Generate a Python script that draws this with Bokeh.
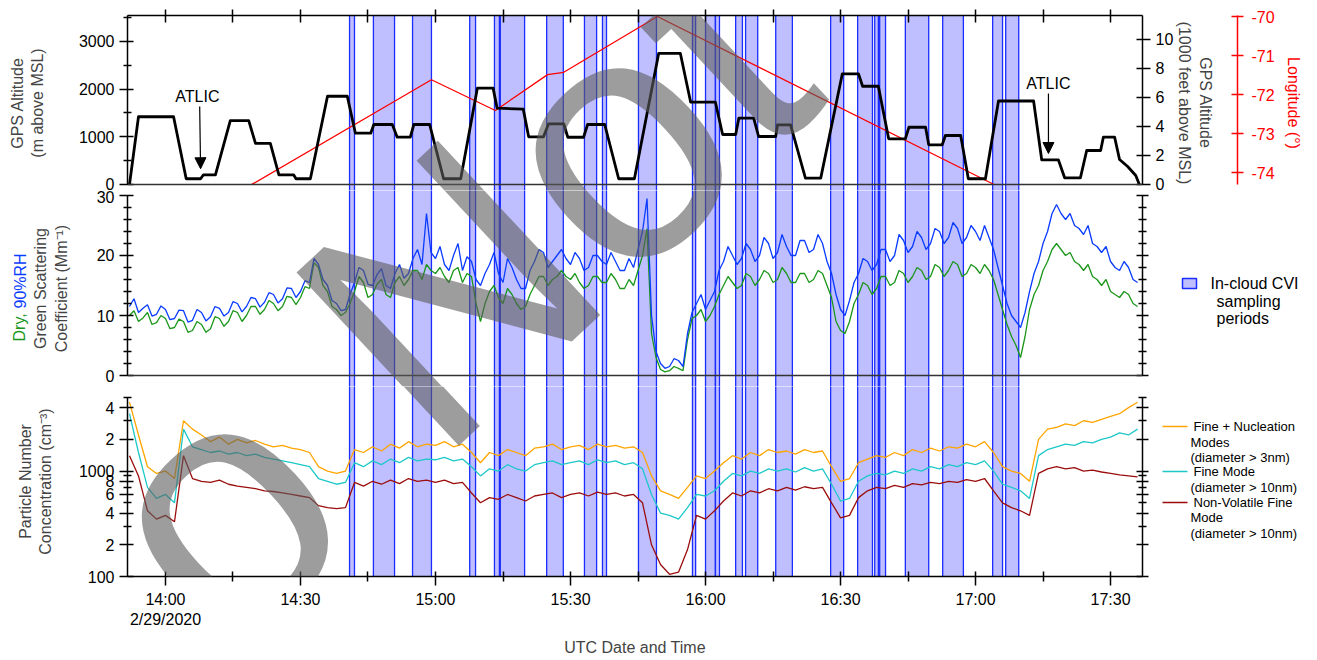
from bokeh.plotting import figure
from bokeh.models import (Range1d, LinearAxis, LogAxis, FixedTicker, Span, Label,
                          Arrow, NormalHead)
from bokeh.layouts import column, row
from bokeh.core.properties import value
from bokeh.embed import file_html
from bokeh.resources import INLINE

FONT = "Liberation Sans"

# ---------------- data (time = minutes after 14:00 UTC, 2/29/2020) ----------------
alt_t = [-8.0, -6.0, 1.8, 4.6, 7.8, 8.4, 11.1, 14.4, 18.5, 20.0, 23.3, 25.2, 28.5, 29.0, 32.2,
         36.0, 40.4, 42.2, 45.6, 46.3, 50.4, 51.5, 54.4, 55.2, 58.7, 61.8, 65.6, 69.3, 72.8,
         73.7, 79.5, 80.7, 84.0, 85.1, 88.5, 89.4, 92.9, 93.8, 97.6, 100.7, 104.2, 109.6,
         114.4, 116.7, 122.2, 123.8, 126.7, 127.4, 130.7, 131.8, 135.6, 136.0, 138.9, 142.2,
         145.6, 150.4, 154.0, 154.9, 158.4, 160.7, 164.4, 165.2, 168.9, 169.6, 172.6, 173.3,
         176.7, 178.4, 182.2, 185.1, 192.9, 194.7, 198.4, 199.8, 203.3, 204.7, 207.8, 208.4,
         210.9, 212.0, 213.8, 215.6, 216.4]
alt_m = [0, 1420, 1420, 120, 120, 200, 200, 1340, 1340, 860, 860, 200, 200, 120, 120,
         1850, 1850, 1075, 1075, 1258, 1258, 992, 992, 1258, 1258, 120, 120, 2020, 2020,
         1600, 1580, 1000, 1000, 1270, 1270, 990, 990, 1258, 1258, 120, 120, 2750,
         2750, 1725, 1725, 1048, 1048, 1390, 1390, 1006, 1006, 1250, 1250, 133,
         133, 2320, 2320, 2060, 2060, 958, 958, 1200, 1200, 832, 832, 1027,
         1027, 120, 120, 1750, 1750, 518, 518, 140, 140, 713, 713, 992,
         992, 524, 377, 189, 0]

lon_t = [19.1, 59.1, 73.3, 84.9, 88.5, 109.3, 184.0]
lon_deg = [-74.31, -71.62, -72.41, -71.49, -71.43, -70.0, -74.30]

band_start = [40.9, 46.2, 54.9, 67.6, 73.1, 74.4, 84.7, 93.1, 97.1, 105.1, 117.1, 120.0,
              122.2, 126.7, 128.9, 135.6, 147.8, 153.8, 157.6, 158.7, 164.4, 172.7, 183.8, 186.7]
band_end = [42.0, 50.9, 59.1, 68.9, 74.2, 79.8, 88.4, 95.8, 98.0, 109.1, 117.8, 122.2,
            123.1, 128.2, 131.6, 139.3, 150.7, 157.1, 158.4, 160.0, 169.6, 177.3, 186.0, 189.6]

# scattering: one reading per minute, 13:52 .. 17:36
scat_t = list(range(-8, 217))
scat_wet = [11.5, 12.8, 10.5, 11.2, 11.8, 9.9, 10.2, 11.6,
            11.0, 9.3, 9.5, 10.9, 10.8, 8.9, 9.2, 11.0, 10.5, 9.1,
            9.8, 11.5, 11.2, 9.9, 10.5, 12.3, 12.0, 10.6, 11.5, 13.0,
            12.8, 11.4, 12.2, 13.8, 13.5, 12.1, 12.8, 14.6, 14.5, 13.0,
            14.0, 15.8, 15.5, 19.5, 18.5, 16.0, 15.0, 12.5, 12.0, 10.8,
            11.0, 13.5, 15.5, 18.0, 17.5, 15.2, 15.0, 16.8, 17.8, 15.0,
            14.5, 17.0, 18.5, 16.2, 17.0, 19.5, 21.0, 18.5, 27.0, 20.5,
            19.5, 21.5, 18.5, 17.5, 20.0, 22.0, 17.5, 19.8, 19.0, 16.0,
            15.0, 17.0, 18.5, 20.5, 17.0, 15.5, 19.5, 18.0, 16.0, 14.5,
            14.5, 17.5, 19.0, 21.0, 20.5, 18.0, 19.0, 20.0, 21.0, 19.5,
            18.5, 20.5, 19.5, 17.5, 18.0, 20.0, 20.0, 19.0, 18.5, 20.5,
            19.0, 17.5, 17.5, 19.5, 18.0, 21.0, 24.0, 29.5, 10.0, 4.0,
            2.0, 1.2, 1.5, 2.8, 2.5, 1.5, 7.0, 10.5, 12.0, 13.5,
            11.0, 12.5, 14.0, 17.5, 19.0, 21.5, 20.0, 18.5, 19.5, 22.0,
            21.0, 19.0, 20.0, 23.0, 22.0, 19.5, 20.5, 23.5, 21.5, 20.0,
            20.0, 22.5, 22.5, 20.5, 21.0, 23.5, 22.0, 19.0, 17.0, 13.5,
            11.0, 10.0, 12.5, 15.5, 17.0, 19.5, 19.0, 17.5, 18.5, 21.0,
            21.0, 19.0, 20.0, 23.5, 22.5, 20.5, 21.5, 24.0, 23.0, 21.0,
            22.0, 24.5, 24.0, 22.0, 23.0, 25.5, 24.5, 22.0, 23.0, 25.0,
            24.0, 22.5, 25.0, 23.0, 21.0, 18.0, 15.0, 12.0, 10.0, 9.0,
            8.0, 10.5, 14.0, 17.0, 19.0, 22.0, 24.0, 27.0, 28.5, 27.0,
            26.0, 27.0, 25.0, 24.5, 23.5, 25.0, 22.0, 21.5, 20.5, 21.5,
            19.0, 18.0, 17.5, 19.0, 18.0, 16.0, 15.5]
scat_dry = [10.0, 10.8, 9.0, 9.6, 10.5, 8.5, 8.8, 10.0,
            9.5, 7.8, 8.0, 9.4, 9.0, 7.2, 7.5, 9.0, 8.5, 7.2,
            7.8, 9.8, 9.5, 8.2, 9.0, 10.8, 10.5, 9.0, 10.0, 11.5,
            11.5, 10.2, 11.0, 12.5, 12.0, 10.8, 11.5, 13.2, 13.0, 11.8,
            13.0, 14.8, 14.5, 18.8, 18.0, 15.0, 14.0, 11.5, 11.0, 10.0,
            10.5, 12.0, 14.0, 16.5, 15.5, 13.0, 13.5, 15.2, 16.0, 13.5,
            13.0, 15.5, 16.5, 15.0, 16.0, 17.5, 17.5, 16.0, 18.5, 17.5,
            17.0, 18.0, 16.5, 15.5, 17.5, 18.0, 15.5, 17.0, 16.5, 12.0,
            9.0, 12.0, 14.0, 15.0, 13.0, 12.0, 14.5, 13.5, 12.0, 11.0,
            11.5, 13.5, 15.0, 16.5, 16.5, 15.0, 16.0, 16.5, 17.5, 16.5,
            16.0, 17.0, 15.5, 14.5, 15.0, 16.5, 16.5, 15.5, 15.5, 17.0,
            16.0, 14.5, 14.5, 16.0, 15.0, 17.5, 20.0, 24.5, 7.0, 3.0,
            1.0, 0.6, 0.8, 1.5, 1.2, 0.8, 6.0, 9.5, 10.0, 11.0,
            9.0, 10.0, 11.5, 13.5, 15.0, 16.5, 15.5, 14.5, 15.0, 17.0,
            16.5, 15.0, 16.0, 17.5, 17.0, 15.5, 16.0, 18.0, 17.0, 15.5,
            15.5, 17.0, 17.0, 15.5, 16.0, 17.5, 17.0, 15.0, 13.0, 9.0,
            7.5, 7.0, 9.0, 12.0, 13.5, 15.5, 15.0, 13.5, 14.5, 16.5,
            16.5, 15.0, 15.5, 17.5, 17.0, 15.5, 16.5, 18.0, 17.5, 16.0,
            16.5, 18.5, 18.0, 16.5, 17.5, 19.0, 18.5, 16.5, 17.0, 18.5,
            18.0, 17.0, 18.5, 17.5, 16.0, 13.5, 11.0, 8.5, 6.5, 5.0,
            3.0, 6.5, 11.0, 13.5, 15.0, 17.5, 19.0, 21.0, 22.0, 21.0,
            20.0, 20.5, 19.0, 18.5, 17.5, 18.5, 16.5, 16.0, 15.0, 16.0,
            14.0, 13.5, 13.0, 14.0, 13.5, 12.0, 11.5]

# particle number: one reading every two minutes, 13:52 .. 17:36
cn_t = list(range(-8, 217, 2))
cn_fine_nuc = [4500, 2200, 1100, 950, 1000, 850, 3000, 2500, 2200, 1900, 2100, 1800, 2000, 1850,
               1950, 1800, 1700, 1750, 1650, 1600, 1500, 1100, 1000, 950, 1000, 1600, 1500, 1700,
               1550, 1800, 1650, 1900, 1700, 1800, 1750, 1900, 1700, 1800, 1500, 1200, 1500, 1400,
               1600, 1500, 1400, 1650, 1700, 1800, 1600, 1700, 1750, 1600, 1800, 1700, 1750, 1650,
               1700, 1500, 900, 650, 600, 550, 700, 900, 850, 1000, 1200, 1400, 1300, 1500,
               1400, 1600, 1500, 1550, 1450, 1600, 1500, 1550, 1100, 800, 850, 1200, 1300, 1400,
               1350, 1500, 1400, 1600, 1500, 1650, 1550, 1700, 1650, 1800, 1700, 1900, 1500, 1100,
               1000, 950, 800, 2000, 2500, 2600, 2800, 2700, 3000, 2900, 3100, 3300, 3500, 4000,
               4500]
cn_fine = [3500, 1500, 700, 550, 600, 500, 2500, 1700, 1600, 1500, 1550, 1450, 1500, 1400,
           1450, 1350, 1300, 1250, 1200, 1150, 1100, 850, 800, 750, 780, 1200, 1100, 1250,
           1150, 1300, 1200, 1350, 1250, 1300, 1280, 1350, 1250, 1300, 1100, 900, 1050, 1000,
           1150, 1050, 1000, 1150, 1200, 1250, 1150, 1200, 1250, 1150, 1280, 1200, 1250, 1150,
           1200, 1050, 600, 400, 380, 350, 450, 600, 580, 650, 800, 950, 900, 1000,
           950, 1050, 1000, 1050, 980, 1080, 1000, 1050, 750, 520, 550, 800, 900, 950,
           920, 1000, 950, 1050, 1000, 1100, 1050, 1150, 1100, 1200, 1150, 1250, 1000, 750,
           700, 650, 550, 1400, 1600, 1700, 1800, 1750, 1900, 1850, 2000, 2100, 2300, 2200,
           2500]
cn_nonvol = [1400, 900, 420, 350, 380, 330, 1400, 850, 800, 780, 820, 750, 720, 700,
             680, 650, 640, 620, 600, 580, 560, 470, 450, 440, 450, 780, 720, 800,
             750, 820, 760, 850, 800, 820, 780, 820, 760, 780, 620, 500, 560, 540,
             600, 560, 520, 580, 600, 620, 560, 600, 620, 580, 630, 600, 620, 580,
             600, 500, 200, 130, 105, 110, 180, 380, 350, 420, 520, 620, 580, 650,
             620, 680, 650, 700, 660, 710, 680, 700, 500, 360, 380, 560, 650, 700,
             680, 730, 700, 760, 740, 780, 760, 800, 780, 830, 800, 850, 650, 500,
             450, 420, 380, 950, 1050, 1100, 1050, 1080, 1000, 1020, 980, 950, 920, 900,
             880]

time_ticks = [0, 30, 60, 90, 120, 150, 180, 210]
time_labels = ["14:00\n2/29/2020", "14:30", "15:00", "15:30", "16:00", "16:30", "17:00", "17:30"]
time_minor = [15, 45, 75, 105, 135, 165, 195]

# ---------------- layout constants (screen pixels) ----------------
W = 1317
LEFT, RIGHT = 127, 175
TOP_H, MID_H, BOT_H = 190, 196, 272
INNER_W = 1152          # width of middle / bottom canvases
SIDE_W = W - INNER_W    # legend strip on the right
XR = Range1d(-8.44, 217.1)
BAND_FILL = "#0000ff"
BAND_LINE = "#1a2cff"
C_DRY, C_WET = "#1a961a", "#0a3cff"
C_FN, C_F, C_NV = "#ffa500", "#1ec8c8", "#9b0d0d"
WM = dict(text="Do Not", angle=43, angle_units="deg", text_font=FONT, text_font_size="346px",
          text_color="#5c5c5c", text_alpha=0.6, text_align="left", text_baseline="alphabetic",
          x_units="screen", y_units="screen")
WM_X, WM_Y = -38, 745   # anchor of the watermark on the page


def style_axis(ax, tick_size="16px"):
    ax.major_label_text_font = FONT
    ax.major_label_text_font_size = tick_size
    ax.major_label_text_color = "black"
    ax.axis_label_text_font = FONT
    ax.axis_label_text_font_size = "16px"
    ax.axis_label_text_font_style = "normal"
    ax.axis_line_color = "black"
    ax.axis_line_width = 1.5
    ax.major_tick_line_color = "black"
    ax.minor_tick_line_color = "black"
    ax.major_tick_line_width = 1.5
    ax.minor_tick_line_width = 1.5
    ax.major_tick_in = 6
    ax.major_tick_out = 8
    ax.minor_tick_in = 4
    ax.minor_tick_out = 4


def base(width, height, y_range, right, **kw):
    p = figure(width=width, height=height, x_range=XR, y_range=y_range,
               output_backend="svg", toolbar_location=None,
               min_border_left=LEFT, min_border_right=right, **kw)
    p.grid.visible = False
    p.outline_line_color = None
    return p


def bands(p, lo, hi):
    return p.quad(left=band_start, right=band_end, bottom=lo, top=hi,
                  fill_color=BAND_FILL, fill_alpha=0.25, line_color=BAND_LINE,
                  line_width=1.3)


def watermark(p, frame_bottom_page):
    p.add_layout(Label(x=WM_X - LEFT, y=frame_bottom_page - WM_Y, **WM))


def tick_only_axis(ax):
    style_axis(ax)
    ax.major_label_text_font_size = "0px"
    ax.major_label_standoff = 0
    ax.major_tick_out = 6
    ax.minor_tick_out = 4


def label_only_axis(text, color, standoff):
    ax = LinearAxis(ticker=FixedTicker(ticks=[], minor_ticks=[]), axis_label=text)
    style_axis(ax)
    ax.axis_line_color = None
    ax.major_tick_out = 0
    ax.major_tick_in = 0
    ax.minor_tick_out = 0
    ax.minor_tick_in = 0
    ax.major_label_text_font_size = "0px"
    ax.major_label_standoff = 0
    ax.axis_label_text_color = color
    ax.axis_label_standoff = standoff
    return ax


# ---------------- top panel: altitude + longitude ----------------
top = base(W, TOP_H, Range1d(-126, 3543), RIGHT, x_axis_location="above",
           min_border_top=15, min_border_bottom=0)
xa = top.xaxis[0]
style_axis(xa)
xa.ticker = FixedTicker(ticks=[0, 15, 30, 45, 60, 75, 90, 105, 120, 135, 150, 165, 180, 195, 210],
                        minor_ticks=[])
xa.major_label_text_font_size = "0px"
xa.major_label_standoff = 0
xa.major_tick_in = 7
xa.major_tick_out = 6

ya = top.yaxis[0]
style_axis(ya)
ya.ticker = FixedTicker(ticks=[0, 1000, 2000, 3000], minor_ticks=[500, 1500, 2500, 3500])
ya.bounds = (0, 3543)
ya.axis_label = "GPS Altitude\n(m above MSL)"
ya.axis_label_standoff = 30

top.extra_y_ranges = {"ft": Range1d(-126 * 3.28084 / 1000, 3543 * 3.28084 / 1000),
                      "lon": Range1d(-74.46, -69.974)}
ft_ax = LinearAxis(y_range_name="ft", ticker=FixedTicker(ticks=[0, 2, 4, 6, 8, 10], minor_ticks=[]),
                   bounds=(0, 3543 * 3.28084 / 1000),
                   axis_label=" \nGPS Altitude\n(1000 feet above MSL)")
style_axis(ft_ax)
ft_ax.axis_label_standoff = 0
top.add_layout(ft_ax, "right")

lon_ticks = [-74, -73, -72, -71, -70]
lon_ax = LinearAxis(y_range_name="lon", ticker=FixedTicker(ticks=lon_ticks, minor_ticks=[]),
                    bounds=(-74.31, -69.974), axis_label="Longitude (°)")
style_axis(lon_ax)
lon_ax.major_label_overrides = {v: "-%d" % abs(v) for v in lon_ticks}
for a in ("axis_line_color", "major_tick_line_color", "major_label_text_color", "axis_label_text_color"):
    setattr(lon_ax, a, "#ff0000")
lon_ax.major_tick_in = 6
lon_ax.major_tick_out = 6
lon_ax.major_label_standoff = 8
lon_ax.axis_label_standoff = 7
top.add_layout(lon_ax, "right")

bands(top, -1000, 10000)
top.add_layout(Span(location=0, dimension="width", line_color="#333333", line_width=1.5))
top.line(lon_t, lon_deg, y_range_name="lon", line_color="#ff0000", line_width=1.3)
top.line(alt_t, alt_m, line_color="black", line_width=2.8, line_join="round")

for tx, ty, ax0, ay0, ax1, ay1 in [(7.1, 1845, 7.6, 1635, 7.8, 330),
                                   (196.2, 2117, 196.2, 1908, 196.2, 650)]:
    top.add_layout(Label(x=tx, y=ty, text="ATLIC", text_align="center", text_baseline="middle",
                         text_font=FONT, text_font_size="16px", text_color="black"))
    top.add_layout(Arrow(end=NormalHead(size=11, fill_color="black", line_color="black"),
                         x_start=ax0, y_start=ay0, x_end=ax1, y_end=ay1,
                         line_color="black", line_width=1.2))
watermark(top, 190)

# ---------------- middle panel: scattering ----------------
mid = base(INNER_W, MID_H, Range1d(-1.833, 30.833), 10, x_axis_location=None,
           min_border_top=0, min_border_bottom=0)
my = mid.yaxis[0]
style_axis(my)
mtick = FixedTicker(ticks=[0, 10, 20, 30], minor_ticks=[2, 4, 6, 8, 12, 14, 16, 18, 22, 24, 26, 28])
my.ticker = mtick
my.bounds = (0, 30)
my.axis_label = "Green Scattering\nCoefficient (Mm⁻¹)"
my.axis_label_standoff = 24
# "Dry, 90%RH" in two colours: two overlaid labels, each padded with fixed-width spaces
# (en/em/third/quarter/sixth spaces) where the other colour's word sits.
mid.add_layout(label_only_axis("\u2002\u2002\u2002\u2004\u00a090%RH\u2003\u2006", C_WET, 1), "left")
mid.add_layout(label_only_axis("Dry,\u00a0\u2003\u2003\u2003\u2005\u2006\u2003\u2006", C_DRY, -19), "left")
myr = LinearAxis(ticker=mtick, bounds=(0, 30))
tick_only_axis(myr)
mid.add_layout(myr, "right")

bands(mid, -10, 100)
mid.add_layout(Span(location=0, dimension="width", line_color="#333333", line_width=1.5))
mid.line(scat_t, scat_dry, line_color=C_DRY, line_width=1.3)
mid.line(scat_t, scat_wet, line_color=C_WET, line_width=1.3)
watermark(mid, 386)

# ---------------- bottom panel: particle number ----------------
bot = base(INNER_W, BOT_H, Range1d(100, 6340), 10, y_axis_type="log",
           min_border_top=0, min_border_bottom=81)
bx = bot.xaxis[0]
style_axis(bx)
bx.ticker = FixedTicker(ticks=time_ticks, minor_ticks=time_minor)
bx.major_label_overrides = dict(zip(time_ticks, time_labels))
bx.major_tick_in = 5
bx.major_tick_out = 9
bx.minor_tick_in = 5
bx.minor_tick_out = 5
bx.axis_label = "UTC Date and Time"
bx.axis_label_standoff = 8

by = bot.yaxis[0]
style_axis(by)
ltick = FixedTicker(ticks=[100, 200, 400, 600, 800, 1000, 2000, 4000],
                    minor_ticks=[300, 500, 700, 900, 3000, 5000])
by.ticker = ltick
by.bounds = (100, 5000)
by.major_label_overrides = {200: "2", 400: "4", 600: "6", 800: "8", 2000: "2", 4000: "4"}
by.axis_label = "Particle Number\nConcentration (cm⁻³)"
by.axis_label_standoff = 22
byr = LogAxis(ticker=ltick, bounds=(100, 5000))
tick_only_axis(byr)
bot.add_layout(byr, "right")

bands(bot, 1, 1e6)
bot.line(cn_t, cn_nonvol, line_color=C_NV, line_width=1.3)
bot.line(cn_t, cn_fine, line_color=C_F, line_width=1.3)
bot.line(cn_t, cn_fine_nuc, line_color=C_FN, line_width=1.3)
watermark(bot, 577)

# ---------------- legend strip (page pixel coordinates) ----------------
side = figure(width=SIDE_W, height=MID_H + BOT_H, x_range=Range1d(INNER_W, W),
              y_range=Range1d(190 + MID_H + BOT_H, 190), output_backend="svg",
              toolbar_location=None, x_axis_location=None, y_axis_location=None,
              min_border=0, min_border_left=0, min_border_right=0, min_border_top=0,
              min_border_bottom=0)
side.grid.visible = False
side.outline_line_color = None
side.quad(left=[1182], right=[1196], top=[278], bottom=[288], fill_color=BAND_FILL,
          fill_alpha=0.25, line_color=BAND_LINE, line_width=1.5)
side.text(x=[1210, 1216, 1216], y=[283, 301, 318], text=["In-cloud CVI", "sampling", "periods"],
          text_font=value(FONT), text_font_size=value("16px"), text_baseline="middle",
          text_align="left", text_color="black")
side.segment(x0=[1162, 1162, 1162], x1=[1187, 1187, 1187], y0=[426, 471, 502], y1=[426, 471, 502],
             line_color=[C_FN, C_F, C_NV], line_width=1.5)
side.text(x=[1193, 1190, 1190, 1193, 1190, 1193, 1190, 1190],
          y=[426, 442, 457, 471, 487, 502, 517, 533],
          text=["Fine + Nucleation", "Modes", "(diameter > 3nm)", "Fine Mode", "(diameter > 10nm)",
                "Non-Volatile Fine", "Mode", "(diameter > 10nm)"],
          text_font=value(FONT), text_font_size=value("13px"), text_baseline="middle",
          text_align="left", text_color="black")

page = column(top, row(column(mid, bot, spacing=0), side, spacing=0), spacing=0)
open("out.html", "w").write(file_html(page, INLINE))
